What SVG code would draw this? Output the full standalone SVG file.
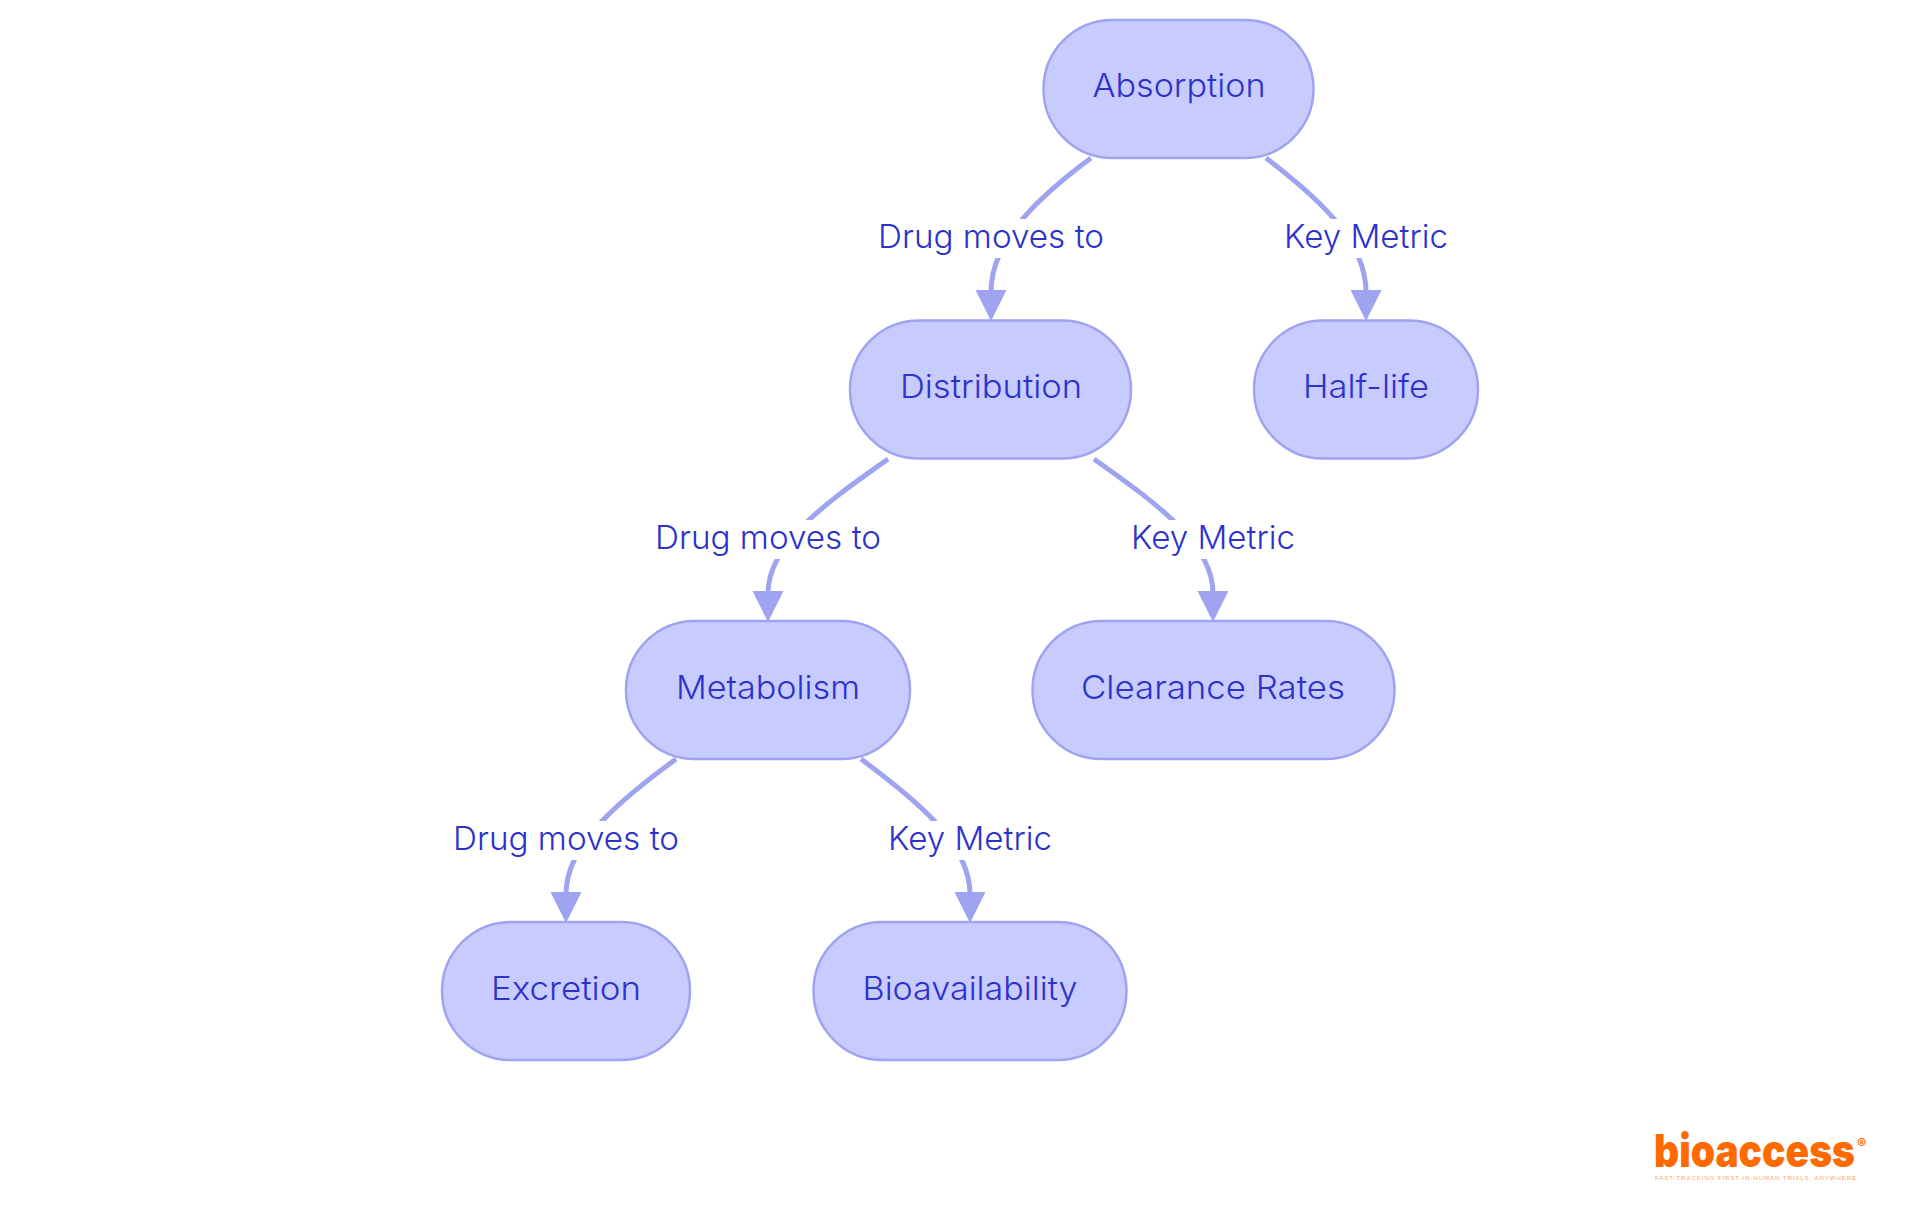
<svg xmlns="http://www.w3.org/2000/svg" width="1920" height="1215" viewBox="0 0 1920 1215">
<style>
.n{fill:#c8cbfd;stroke:#9fa4f1;stroke-width:2.5}
.t{font-family:Inter,"Noto Sans",sans-serif;font-size:33px;font-weight:350;fill:#2c32ca;text-anchor:middle}
.e{fill:none;stroke:#9fa4f1;stroke-width:5}
.a{fill:#9fa4f1}
.l{fill:#fff}
.lg{font-family:Inter,"Liberation Sans",sans-serif;fill:#ff6a00;font-weight:900}
</style>
<rect width="1920" height="1215" fill="#fff"/>
<g id="connectors">
<path class="e" d="M1091 158C1040 196 991 240 991 292"/>
<path class="e" d="M1266 158C1316 196 1366 240 1366 292"/>
<path class="e" d="M888 459C835 497 768 541 768 593"/>
<path class="e" d="M1094 459C1147 497 1213 541 1213 593"/>
<path class="e" d="M676 759C625 797 566 842 566 894"/>
<path class="e" d="M861 759C912 797 970 842 970 894"/>
<path class="a" d="M975.500 290h31l-15.500 31zM1350.500 290h31l-15.500 31zM752.500 591h31l-15.500 31zM1197.500 591h31l-15.500 31zM550.500 892h31l-15.500 31zM954.500 892h31l-15.500 31z"/>
<g>
<rect class="l" x="876" y="219" width="230" height="39"/><text class="t" x="991" y="248" textLength="226" lengthAdjust="spacingAndGlyphs">Drug moves to</text>
<rect class="l" x="1282" y="219" width="168" height="39"/><text class="t" x="1366" y="248" textLength="164" lengthAdjust="spacingAndGlyphs">Key Metric</text>
<rect class="l" x="653" y="520" width="230" height="39"/><text class="t" x="768" y="549" textLength="226" lengthAdjust="spacingAndGlyphs">Drug moves to</text>
<rect class="l" x="1129" y="520" width="168" height="39"/><text class="t" x="1213" y="549" textLength="164" lengthAdjust="spacingAndGlyphs">Key Metric</text>
<rect class="l" x="451" y="821" width="230" height="39"/><text class="t" x="566" y="850" textLength="226" lengthAdjust="spacingAndGlyphs">Drug moves to</text>
<rect class="l" x="886" y="821" width="168" height="39"/><text class="t" x="970" y="850" textLength="164" lengthAdjust="spacingAndGlyphs">Key Metric</text>
</g>
</g>
<g id="absorption"><rect class="n" x="1043.500" y="20" width="270" height="138" rx="69" ry="69"/><text class="t" x="1179" y="97" textLength="173" lengthAdjust="spacingAndGlyphs">Absorption</text></g>
<g id="distribution"><rect class="n" x="850" y="320.500" width="281" height="138" rx="69" ry="69"/><text class="t" x="991" y="398" textLength="182" lengthAdjust="spacingAndGlyphs">Distribution</text></g>
<g id="half-life"><rect class="n" x="1254" y="320.500" width="224" height="138" rx="69" ry="69"/><text class="t" x="1366" y="398" textLength="126" lengthAdjust="spacingAndGlyphs">Half-life</text></g>
<g id="metabolism"><rect class="n" x="626" y="621" width="284" height="138" rx="69" ry="69"/><text class="t" x="768" y="699" textLength="184" lengthAdjust="spacingAndGlyphs">Metabolism</text></g>
<g id="clearance"><rect class="n" x="1032.500" y="621" width="362" height="138" rx="69" ry="69"/><text class="t" x="1213" y="699" textLength="264" lengthAdjust="spacingAndGlyphs">Clearance Rates</text></g>
<g id="excretion"><rect class="n" x="442" y="922" width="248" height="138" rx="69" ry="69"/><text class="t" x="566" y="1000" textLength="150" lengthAdjust="spacingAndGlyphs">Excretion</text></g>
<g id="bioavailability"><rect class="n" x="813.500" y="922" width="313" height="138" rx="69" ry="69"/><text class="t" x="970" y="1000" textLength="215" lengthAdjust="spacingAndGlyphs">Bioavailability</text></g>
<g id="logo">
<text class="lg" x="1654" y="1167" font-size="46" textLength="201" lengthAdjust="spacingAndGlyphs">bioaccess</text>
<text x="1857" y="1149" font-family="Inter,sans-serif" font-size="14" font-weight="600" fill="#ff6a00">®</text>
<text x="1655" y="1180" font-family="'Liberation Sans',sans-serif" font-size="6" fill="#ffa566" textLength="201">FAST-TRACKING FIRST-IN-HUMAN TRIALS, ANYWHERE</text>
</g>
</svg>
